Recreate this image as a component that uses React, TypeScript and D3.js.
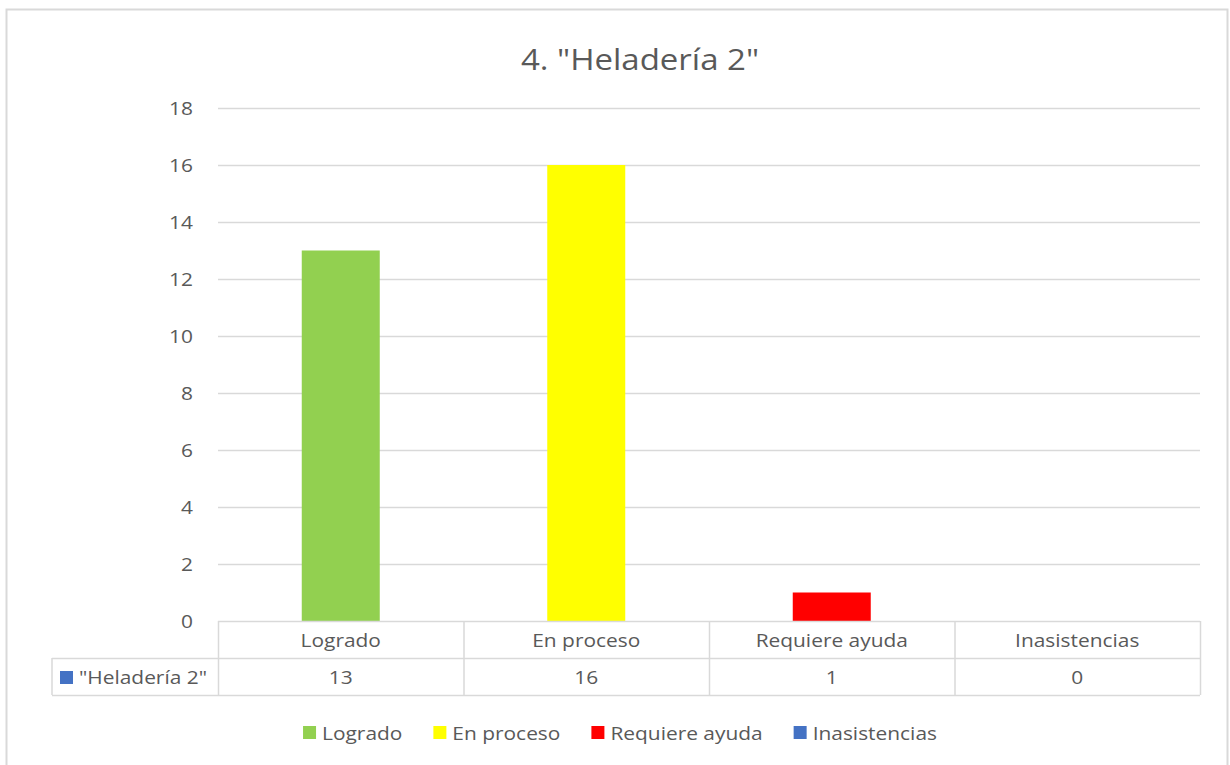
import React, { useEffect, useRef } from "react";
import * as d3 from "d3";

const title = '4. "Heladería 2"';
const seriesName = '"Heladería 2"';
const categories = ["Logrado", "En proceso", "Requiere ayuda", "Inasistencias"];
const values = [13, 16, 1, 0];
const colors = ["#92D050", "#FFFF00", "#FF0000", "#4472C4"];
const seriesColor = "#4472C4";
const yTicks = [0, 2, 4, 6, 8, 10, 12, 14, 16, 18];

const W = 1230;
const H = 765;
const FONT = "'Open Sans', sans-serif";
const TXT = "#595959";
const GRID = "#D9D9D9";
const FS = 19;
const SX = 1.1;

export default function App() {
  const ref = useRef<SVGSVGElement>(null);

  useEffect(() => {
    const svg = d3.select(ref.current);
    svg.selectAll("*").remove();

    const left = 218, right = 1200, top = 108, bottom = 621;
    const rowH = 37;
    const tableLeft = 52;
    const tf = (x: number, y: number) => `translate(${x},${y}) scale(${SX},1)`;

    // chart border
    svg.append("rect").attr("x", 6.5).attr("y", 9.5).attr("width", 1221).attr("height", 770)
      .attr("fill", "#fff").attr("stroke", GRID).attr("stroke-width", 2);

    svg.append("text").attr("transform", tf(640, 70)).attr("text-anchor", "middle")
      .attr("font-family", FONT).attr("font-size", 30).attr("fill", TXT).text(title);

    const y = d3.scaleLinear().domain([0, 18]).range([bottom, top]);
    const x = d3.scaleBand().domain(categories).range([left, right]).paddingInner(0).paddingOuter(0);

    // grid
    svg.append("g").selectAll("line").data(yTicks.filter(t => t > 0)).join("line")
      .attr("x1", left).attr("x2", right)
      .attr("y1", d => Math.round(y(d)) + 0.5).attr("y2", d => Math.round(y(d)) + 0.5)
      .attr("stroke", GRID).attr("stroke-width", 1.3);

    svg.append("g").selectAll("text").data(yTicks).join("text")
      .attr("transform", d => tf(193, y(d) + 7)).attr("text-anchor", "end")
      .attr("font-family", FONT).attr("font-size", FS).attr("fill", TXT).text(d => d);

    // bars
    const barW = 78;
    svg.append("g").selectAll("rect").data(values).join("rect")
      .attr("x", (d, i) => x(categories[i])! + x.bandwidth() / 2 - barW / 2)
      .attr("y", d => y(d))
      .attr("width", barW)
      .attr("height", d => bottom - y(d))
      .attr("fill", (d, i) => colors[i]);

    // data table
    const tg = svg.append("g").attr("stroke", GRID).attr("stroke-width", 1.5);
    tg.append("line").attr("x1", left).attr("x2", right).attr("y1", bottom + 0.5).attr("y2", bottom + 0.5);
    tg.append("line").attr("x1", tableLeft).attr("x2", right).attr("y1", bottom + rowH + 0.5).attr("y2", bottom + rowH + 0.5);
    tg.append("line").attr("x1", tableLeft).attr("x2", right).attr("y1", bottom + 2 * rowH + 0.5).attr("y2", bottom + 2 * rowH + 0.5);
    tg.append("line").attr("x1", tableLeft).attr("x2", tableLeft).attr("y1", bottom + rowH).attr("y2", bottom + 2 * rowH);
    const bounds = categories.map(c => x(c)!).concat([right]);
    tg.selectAll("line.v").data(bounds).join("line").attr("class", "v")
      .attr("x1", d => d + 0.5).attr("x2", d => d + 0.5)
      .attr("y1", bottom).attr("y2", bottom + 2 * rowH);

    svg.append("g").selectAll("text").data(categories).join("text")
      .attr("transform", d => tf(x(d)! + x.bandwidth() / 2, bottom + 26)).attr("text-anchor", "middle")
      .attr("font-family", FONT).attr("font-size", FS).attr("fill", TXT).text(d => d);
    svg.append("g").selectAll("text").data(values).join("text")
      .attr("transform", (d, i) => tf(x(categories[i])! + x.bandwidth() / 2, bottom + rowH + 26)).attr("text-anchor", "middle")
      .attr("font-family", FONT).attr("font-size", FS).attr("fill", TXT).text(d => d);

    svg.append("rect").attr("x", 60).attr("y", bottom + rowH + 13).attr("width", 13).attr("height", 13).attr("fill", seriesColor);
    svg.append("text").attr("transform", tf(79, bottom + rowH + 26))
      .attr("font-family", FONT).attr("font-size", FS).attr("fill", TXT).text(seriesName);

    // legend
    const lg = svg.append("g");
    const items = lg.selectAll("g").data(categories).join("g");
    items.append("rect").attr("width", 13).attr("height", 13).attr("y", 726).attr("fill", (d, i) => colors[i]);
    const texts = items.append("text").attr("transform", tf(19, 740))
      .attr("font-family", FONT).attr("font-size", FS).attr("fill", TXT).text(d => d);
    const widths: number[] = [];
    texts.each(function () { widths.push((this as SVGTextElement).getComputedTextLength() * SX); });
    const gap = 31;
    const itemW = widths.map(w => 19 + w);
    const total = d3.sum(itemW) + gap * (itemW.length - 1);
    let cx = 620 - total / 2;
    const offs: number[] = [];
    itemW.forEach(w => { offs.push(cx); cx += w + gap; });
    items.attr("transform", (d, i) => `translate(${offs[i]},0)`);
  }, []);

  return (
    <svg ref={ref} width={W} height={H}
      style={{ position: "absolute", left: 0, top: 0, background: "#fff" }} />
  );
}
